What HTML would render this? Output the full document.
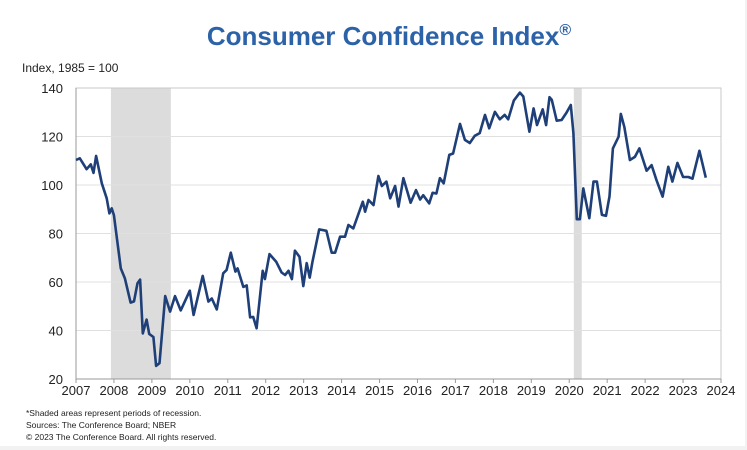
<!DOCTYPE html>
<html><head><meta charset="utf-8"><style>
html,body{margin:0;padding:0;background:#f2f2f2;width:747px;height:450px;overflow:hidden;font-family:"Liberation Sans",Arial,sans-serif}
#card{position:absolute;left:0;top:0;width:745px;height:446px;background:#fff}
</style></head><body>
<div id="card">
<svg id="chart" width="747" height="450" style="position:absolute;left:0;top:0">
<text x="389" y="45" text-anchor="middle" font-size="26" font-weight="bold" fill="#2c62a8">Consumer Confidence Index<tspan font-size="16" dy="-10">®</tspan></text>
<text x="22" y="72" font-size="12" fill="#222">Index, 1985 = 100</text>
<g id="plot"></g>
<text x="26" y="416" font-size="8.5" fill="#222">*Shaded areas represent periods of recession.</text>
<text x="26" y="428" font-size="8.5" fill="#222">Sources: The Conference Board; NBER</text>
<text x="26" y="440" font-size="8.5" fill="#222">© 2023 The Conference Board. All rights reserved.</text>
</svg>
</div>
<script>
const dates=[2007.0,2007.1,2007.28,2007.39,2007.46,2007.53,2007.68,2007.81,2007.88,2007.94,2008.0,2008.18,2008.29,2008.44,2008.53,2008.62,2008.69,2008.76,2008.86,2008.93,2009.04,2009.11,2009.2,2009.35,2009.48,2009.61,2009.76,2010.0,2010.1,2010.34,2010.49,2010.58,2010.71,2010.88,2010.97,2011.08,2011.2,2011.26,2011.41,2011.5,2011.59,2011.67,2011.76,2011.92,2011.98,2012.1,2012.28,2012.42,2012.51,2012.6,2012.69,2012.77,2012.89,2012.99,2013.08,2013.16,2013.23,2013.41,2013.6,2013.74,2013.83,2013.96,2014.09,2014.18,2014.31,2014.56,2014.62,2014.71,2014.84,2014.97,2015.06,2015.18,2015.28,2015.41,2015.5,2015.63,2015.82,2015.96,2016.07,2016.15,2016.31,2016.4,2016.5,2016.59,2016.69,2016.84,2016.94,2017.12,2017.25,2017.38,2017.51,2017.64,2017.78,2017.89,2018.04,2018.17,2018.3,2018.39,2018.54,2018.7,2018.79,2018.95,2019.06,2019.15,2019.3,2019.39,2019.48,2019.54,2019.67,2019.8,2019.93,2020.04,2020.11,2020.2,2020.28,2020.37,2020.53,2020.64,2020.73,2020.86,2020.97,2021.06,2021.15,2021.3,2021.36,2021.45,2021.6,2021.73,2021.85,2022.04,2022.17,2022.3,2022.46,2022.61,2022.72,2022.85,2023.0,2023.14,2023.25,2023.43,2023.6];
const values=[110.3,111,106.5,108.5,105,112,100.7,94.5,88.3,90.4,87.6,65.6,61.5,51.5,52,59.5,61,38.8,44.5,38.6,37.3,25.4,26.5,54.2,47.8,54.2,48.3,56.4,46.4,62.5,51.9,53.2,48.7,63.6,65,72.1,64.3,65.6,58,58.6,45.4,45.6,40.9,64.6,61.2,71.5,68.3,63.9,62.9,64.6,61.2,72.9,70.4,58.3,67.8,61.8,68.2,81.7,81.1,72.1,72.1,78.7,78.7,83.5,82.1,93.1,89,93.8,91.7,103.7,99.6,101.4,94.5,99.6,91.1,102.8,92.7,97.9,94,95.8,92.4,96.8,96.5,102.8,100.7,112.4,113,125.2,118.6,117.3,120.3,121.4,128.9,123.4,130.2,127.1,128.9,127.1,134.8,138.1,136.5,122,131.6,124.7,131.2,124.7,136.2,135.1,126.5,126.8,129.9,133,121.4,85.9,85.9,98.6,86.3,101.4,101.4,87.7,87.3,95.3,115.1,119.9,129.3,124,110.3,111.6,115.1,105.9,108.2,102,95.2,107.5,101.4,109.1,103.3,103.3,102.6,114.1,103];
const recessionStarts=[2007.92,2020.12];
const recessionEnds=[2009.5,2020.33];
const yTicks=[20,40,60,80,100,120,140];
const xTicks=[2007,2008,2009,2010,2011,2012,2013,2014,2015,2016,2017,2018,2019,2020,2021,2022,2023,2024];
const L=76,R=721,T=88,B=379;
const xS=v=>L+(v-2007)/(2024-2007)*(R-L);
const yS=v=>B-(v-20)/(140-20)*(B-T);
const NS='http://www.w3.org/2000/svg';
const g=document.getElementById('plot');
function mk(t,a){const e=document.createElementNS(NS,t);for(const k in a)e.setAttribute(k,a[k]);g.appendChild(e);return e;}
recessionStarts.forEach((s,i)=>{
  const r=mk('rect',{x:xS(s),y:T,width:xS(recessionEnds[i])-xS(s),height:B-T,fill:'#dcdcdc'});
  
  
});
yTicks.forEach(v=>{
  if(v>20&&v<140){const l=mk('line',{x1:L,x2:R,y1:yS(v),y2:yS(v),stroke:'#e0e0e0','stroke-width':1});
  
  }
  const t=mk('text',{x:63,y:yS(v)+5,'text-anchor':'end','font-size':13,fill:'#222'});
  t.textContent=v;
  
  
});
const fr=mk('rect',{x:L,y:T,width:R-L,height:B-T,fill:'none',stroke:'#c8c8c8','stroke-width':1});


const ax=mk('line',{x1:L,x2:L,y1:T,y2:B,stroke:'#999','stroke-width':1});


const bx=mk('line',{x1:L,x2:R,y1:B,y2:B,stroke:'#999','stroke-width':1});


xTicks.forEach(v=>{
  const tk=mk('line',{x1:xS(v),x2:xS(v),y1:B,y2:B+4,stroke:'#999'});
  
  
  const t=mk('text',{x:xS(v),y:B+16,'text-anchor':'middle','font-size':13,fill:'#222'});
  t.textContent=v;
  
  
});
const p=mk('polyline',{points:dates.map((d,i)=>xS(d).toFixed(1)+','+yS(values[i]).toFixed(1)).join(' '),fill:'none',stroke:'#1f3f78','stroke-width':2.6,'stroke-linejoin':'round'});


</script>
</body></html>
